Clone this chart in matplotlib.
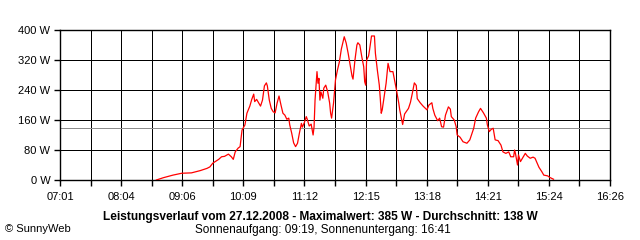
import matplotlib
matplotlib.use('Agg')
import matplotlib.pyplot as plt
import numpy as np

plt.rcParams['font.family'] = ['Liberation Sans', 'DejaVu Sans']

# Zeit in Minuten seit Mitternacht, Leistung in W
minutes = [520, 527, 537, 546, 556, 565, 572, 575, 578, 584, 587, 590, 594, 597, 599,
           601, 604, 606, 608, 611, 613, 616, 618, 620, 621, 623, 625, 627, 629, 631,
           633, 634, 636, 638, 640, 642, 644, 646, 648, 650, 652, 654, 656, 657, 659,
           661, 663, 665, 667, 669, 670, 672, 674, 675, 677, 679, 681, 682, 683, 685,
           686, 687, 688, 689, 691, 692, 694, 696, 698, 699, 700, 702, 703, 704, 706,
           708, 710, 713, 715, 717, 719, 721, 722, 724, 726, 727, 729, 731, 733, 734,
           735, 736, 738, 739, 741, 744, 745, 747, 749, 750, 751, 752, 754, 756, 758,
           760, 763, 765, 767, 769, 770, 773, 775, 779, 781, 783, 785, 787, 788, 791,
           794, 798, 800, 803, 804, 806, 809, 811, 813, 815, 817, 820, 822, 823, 826,
           828, 829, 832, 835, 839, 842, 846, 848, 851, 853, 856, 859, 860, 862, 864,
           866, 868, 871, 874, 876, 879, 882, 884, 887, 888, 889, 891, 892, 894, 896,
           899, 901, 904, 907, 909, 911, 913, 916, 918, 922, 924, 928]
watts = [0, 6, 13, 18, 19, 25, 31, 35, 45, 55, 62, 63, 69, 62, 55,
         75, 85, 89, 133, 147, 178, 197, 215, 229, 209, 215, 206, 197, 213, 251,
         259, 251, 213, 191, 182, 179, 205, 224, 200, 178, 173, 162, 165, 147, 125,
         99, 89, 98, 126, 151, 141, 153, 169, 162, 144, 149, 120, 142, 213, 289,
         258, 271, 213, 235, 218, 245, 253, 235, 205, 178, 165, 205, 235, 267, 293,
         315, 349, 382, 365, 338, 307, 277, 269, 320, 360, 366, 360, 329, 302, 262,
         253, 320, 331, 347, 384, 384, 338, 293, 253, 218, 178, 187, 222, 258, 311,
         289, 289, 262, 235, 205, 187, 148, 176, 191, 207, 232, 259, 252, 217, 206,
         197, 187, 200, 206, 191, 173, 158, 165, 142, 141, 173, 195, 189, 169, 160,
         142, 120, 114, 102, 98, 107, 138, 165, 182, 191, 179, 165, 147, 129, 135,
         138, 107, 105, 93, 75, 71, 75, 62, 62, 80, 69, 40, 67, 49, 58,
         71, 64, 58, 61, 58, 46, 34, 22, 13, 11, 7, 2]

mean_w = 138
t_start, t_end = 421, 986  # 07:01 .. 16:26
tick_labels = ['07:01', '08:04', '09:06', '10:09', '11:12', '12:15',
               '13:18', '14:21', '15:24', '16:26']
y_ticks = [0, 80, 160, 240, 320, 400]

fig = plt.figure(figsize=(6.4, 2.4), dpi=100, facecolor='white')
ax = fig.add_axes([60/640, 60/240, 550/640, 150/240])

grid_x = np.linspace(t_start, t_end, 19)
for gx in grid_x:
    ax.axvline(gx, color='black', lw=0.7, zorder=1, antialiased=False)
for gy in y_ticks:
    ax.axhline(gy, color='black', lw=0.7, zorder=1, antialiased=False)
ax.axhline(mean_w, color='#8c8c8c', lw=0.7, zorder=2, antialiased=False)

ax.plot(minutes, watts, color='red', lw=0.9, zorder=3)

ax.set_xlim(t_start, t_end)
ax.set_ylim(0, 400)
ax.set_xticks(grid_x)
ax.set_xticklabels([lab if i % 2 == 0 else '' for i, lab in
                    enumerate(np.repeat(tick_labels, 2)[:19])], fontsize=8)
ax.set_yticks(y_ticks)
ax.set_yticklabels([f'{v} W' for v in y_ticks], fontsize=8)
ax.tick_params(axis='x', length=4, width=1.0, color='black', pad=5)
ax.tick_params(axis='y', length=4, width=1.0, color='black', pad=3)
for sp in ax.spines.values():
    sp.set_linewidth(1.0)

fig.text(0.5, 1 - 217/240, 'Leistungsverlauf vom 27.12.2008 - Maximalwert: 385 W - Durchschnitt: 138 W',
         ha='center', va='center', fontsize=8.6, fontweight='bold')
fig.text(0.504, 1 - 230/240, 'Sonnenaufgang: 09:19, Sonnenuntergang: 16:41',
         ha='center', va='center', fontsize=8.5)
fig.text(5/640, 1 - 229/240, '© SunnyWeb', ha='left', va='center', fontsize=8)

fig.savefig('out.png', dpi=100, facecolor='white')
